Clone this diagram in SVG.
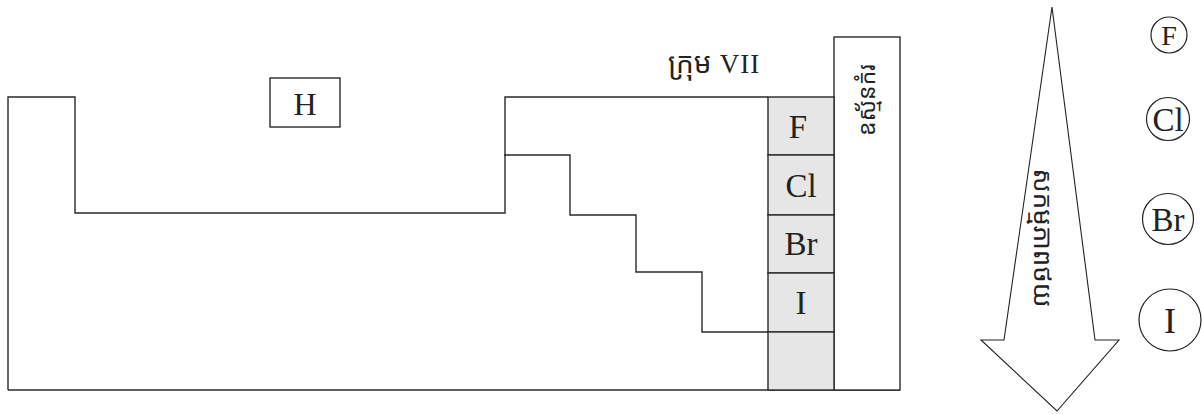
<svg xmlns="http://www.w3.org/2000/svg" width="1203" height="414" viewBox="0 0 1203 414">
<style>
.ln{fill:none;stroke:#2a2a2a;stroke-width:1.4}
.cell{fill:#e6e6e6;stroke:#2a2a2a;stroke-width:1.4}
.box{fill:#fff;stroke:#2a2a2a;stroke-width:1.4}
.el{font-family:"Liberation Serif","Times New Roman",serif;fill:#222;text-anchor:middle}
.km{font-family:"Khmer OS","Noto Sans Khmer","Khmer OS System","Liberation Serif",serif;fill:#222}
.circ{fill:#fff;stroke:#222;stroke-width:1.2}
</style>
<rect width="1203" height="414" fill="#fff"/>
<g id="table">
<path class="ln" d="M8,390 L8,97 L75,97 L75,213 L505,213 L505,97 L768,97"/>
<path class="ln" stroke-width="1.8" d="M8,390 L900,390"/>
<path class="ln" d="M504,155 L570,155 L570,215 L636,215 L636,272 L702,272 L702,332 L768,332"/>
</g>
<g id="node-H">
<rect class="box" x="270" y="78" width="70" height="49"/>
<text class="el" x="305" y="115" font-size="32">H</text>
</g>
<g id="noble-gas">
<rect class="box" x="834" y="37" width="66" height="353"/>
<text class="km" font-size="23" text-anchor="middle" transform="translate(875,100) rotate(-90)">ឧស្ម័នកំរ</text>
</g>
<g id="group-label">
<text class="km" x="668" y="73" font-size="28">ក្រុម</text>
<text class="el" x="740" y="73" font-size="27" letter-spacing="1" text-anchor="start">VII</text>
</g>
<g id="cell-F"><rect class="cell" x="768" y="97" width="66" height="58"/><text class="el" x="798" y="138" font-size="33">F</text></g>
<g id="cell-Cl"><rect class="cell" x="768" y="155" width="66" height="60"/><text class="el" x="801" y="197" font-size="33">Cl</text></g>
<g id="cell-Br"><rect class="cell" x="768" y="215" width="66" height="58"/><text class="el" x="801" y="255" font-size="33">Br</text></g>
<g id="cell-I"><rect class="cell" x="768" y="273" width="66" height="59"/><text class="el" x="801" y="314" font-size="33">I</text></g>
<g id="cell-empty"><rect class="cell" x="768" y="332" width="66" height="58"/></g>
<g id="arrow">
<path fill="#fff" stroke="#222" stroke-width="1.1" stroke-linejoin="miter" d="M1052,7 L1095,340 L1119,340 L1057,411 L981,340 L1004,340 Z"/>
<text class="km" font-size="26" text-anchor="middle" transform="translate(1034,238) rotate(90)">សកម្មភាពថយ</text>
</g>
<g id="atom-F"><circle class="circ" cx="1169" cy="35" r="18"/><text class="el" x="1169" y="45" font-size="28">F</text></g>
<g id="atom-Cl"><circle class="circ" cx="1168" cy="119" r="21.5"/><text class="el" x="1168" y="131" font-size="33">Cl</text></g>
<g id="atom-Br"><circle class="circ" cx="1168" cy="219" r="25.5"/><text class="el" x="1168" y="231" font-size="33">Br</text></g>
<g id="atom-I"><circle class="circ" cx="1170" cy="320" r="31"/><text class="el" x="1170" y="333" font-size="36">I</text></g>
</svg>
